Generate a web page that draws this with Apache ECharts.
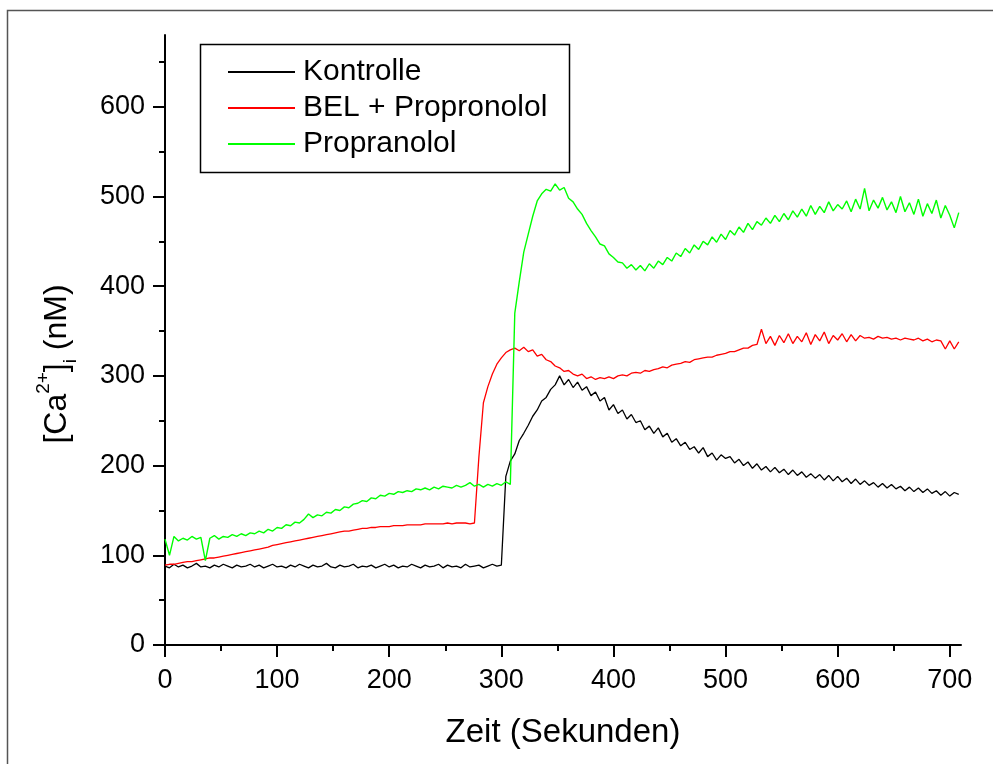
<!DOCTYPE html>
<html>
<head>
<meta charset="utf-8">
<script src="https://cdn.jsdelivr.net/npm/echarts@6/dist/echarts.min.js"></script>
<style>
html,body{margin:0;padding:0;background:#fff;}
#chart{width:993px;height:764px;}
</style>
</head>
<body>
<div id="chart"></div>
<script>
// Sample times (s)
const times = [
  0,4,8,12,16,20,24,28,32,36,
  40,44,48,52,56,60,64,68,72,76,
  80,84,88,92,96,100,104,108,112,116,
  120,124,128,132,136,140,144,148,152,156,
  160,164,168,172,176,180,184,188,192,196,
  200,204,208,212,216,220,224,228,232,236,
  240,244,248,252,256,260,264,268,272,276,
  280,284,288,292,296,300,304,308,312,316,
  320,324,328,332,336,340,344,348,352,356,
  360,364,368,372,376,380,384,388,392,396,
  400,404,408,412,416,420,424,428,432,436,
  440,444,448,452,456,460,464,468,472,476,
  480,484,488,492,496,500,504,508,512,516,
  520,524,528,532,536,540,544,548,552,556,
  560,564,568,572,576,580,584,588,592,596,
  600,604,608,612,616,620,624,628,632,636,
  640,644,648,652,656,660,664,668,672,676,
  680,684,688,692,696,700,704,708
];

const kontrolle = [
  88,86,90,87,89,86,88,91,87,88,
  86,89,87,90,88,86,89,87,88,90,
  87,89,86,88,90,87,88,86,89,87,
  90,88,86,89,87,88,91,87,86,89,
  87,88,90,86,88,87,89,86,88,90,
  87,89,86,88,87,90,88,86,89,87,
  88,90,86,89,87,88,86,90,87,88,
  89,86,88,90,88,89,188,205,213,228,
  236,245,255,262,272,276,285,290,300,290,
  296,287,293,284,288,278,282,272,276,262,
  268,258,262,252,257,248,250,240,244,236,
  242,232,236,226,230,222,226,218,221,214,
  220,210,214,206,212,208,210,203,207,200,
  204,197,202,195,199,193,198,192,196,190,
  195,189,193,187,191,186,190,184,189,183,
  188,182,186,180,185,179,183,178,181,176,
  180,175,179,174,177,172,176,171,175,170,
  174,169,172,167,171,166,170,168
];

const belPropronolol = [
  89,90,90,91,92,93,93,94,95,96,
  97,97,98,99,100,101,102,103,104,105,
  106,107,108,109,111,112,113,114,115,116,
  117,118,119,120,121,122,123,124,125,126,
  127,127,128,129,130,130,131,131,132,132,
  132,133,133,133,134,134,134,134,135,135,
  135,135,135,136,135,136,136,136,135,136,
  210,270,288,302,313,320,326,329,331,328,
  332,327,329,322,324,318,316,311,309,305,
  306,302,300,302,297,299,296,298,297,299,
  297,300,301,300,303,304,303,306,305,307,
  308,310,309,312,313,314,316,315,318,319,
  320,321,321,323,324,325,327,327,329,331,
  331,334,335,352,336,344,334,345,337,347,
  336,344,338,348,335,346,339,349,336,345,
  340,347,338,346,339,345,342,343,341,344,
  342,343,341,342,340,342,341,340,342,339,
  341,338,340,339,330,339,330,338
];

const propranolol = [
  118,100,121,116,119,117,121,118,120,94,
  119,122,118,121,120,123,121,124,122,125,
  124,127,125,129,127,131,130,134,133,137,
  136,140,146,142,145,144,148,147,151,150,
  154,153,157,158,161,160,164,163,167,166,
  169,168,171,170,172,171,174,173,175,173,
  176,174,177,176,175,178,176,178,181,177,
  179,176,179,177,180,178,182,179,370,405,
  438,458,478,495,503,508,506,514,507,510,
  498,494,486,480,470,462,455,447,445,436,
  432,427,426,420,424,418,423,417,425,420,
  428,424,432,428,437,433,442,437,446,441,
  450,446,455,449,458,452,462,457,466,460,
  470,463,472,468,476,470,479,472,481,474,
  484,477,486,478,490,480,489,482,494,484,
  491,486,495,483,497,486,509,484,496,487,
  499,485,494,482,500,483,493,480,497,478,
  492,481,496,476,490,479,465,482
];

const seriesNames = ['Kontrolle', 'BEL + Propronolol', 'Propranolol'];
const seriesColors = ['#000000', '#ff0000', '#00ff00'];

const xMajorTicks = [0,100,200,300,400,500,600,700];
const xMinorTicks = [50,150,250,350,450,550,650];
const yMajorTicks = [0,100,200,300,400,500,600];
const yMinorTicks = [50,150,250,350,450,550,650];

const FONT = 'Liberation Sans, Arial, sans-serif';

function pairs(vals){ return vals.map((v,i)=>[times[i], v]); }

const chart = echarts.init(document.getElementById('chart'), null, {renderer:'canvas'});

const axisLineStyle = {color:'#000', width:2};

chart.setOption({
  animation:false,
  backgroundColor:'#fff',
  grid:{left:165, right:32, top:35, bottom:119, containLabel:false},
  xAxis:[
    {type:'value', min:0, max:710, position:'bottom',
     axisLine:{show:true, onZero:false, lineStyle:axisLineStyle},
     axisTick:{show:true, inside:false, length:12, lineStyle:{color:'#000', width:2}, customValues:xMajorTicks},
     axisLabel:{show:true, customValues:xMajorTicks, margin:22, fontSize:27, color:'#000', fontFamily:FONT},
     splitLine:{show:false},
     name:'Zeit (Sekunden)', nameLocation:'middle', nameGap:71,
     nameTextStyle:{fontSize:33, color:'#000', fontFamily:FONT}},
    {type:'value', min:0, max:710, position:'bottom',
     axisLine:{show:false},
     axisTick:{show:true, inside:false, length:6, lineStyle:{color:'#000', width:2}, customValues:xMinorTicks},
     axisLabel:{show:false},
     splitLine:{show:false}}
  ],
  yAxis:[
    {type:'value', min:0, max:680, position:'left',
     axisLine:{show:true, onZero:false, lineStyle:axisLineStyle},
     axisTick:{show:true, inside:false, length:12, lineStyle:{color:'#000', width:2}, customValues:yMajorTicks},
     axisLabel:{show:true, customValues:yMajorTicks, margin:20, fontSize:27, color:'#000', fontFamily:FONT},
     splitLine:{show:false}},
    {type:'value', min:0, max:680, position:'left',
     axisLine:{show:false},
     axisTick:{show:true, inside:false, length:6, lineStyle:{color:'#000', width:2}, customValues:yMinorTicks},
     axisLabel:{show:false},
     splitLine:{show:false}}
  ],
  legend:{
    orient:'vertical', left:228, top:57, padding:0,
    itemWidth:67, itemHeight:2, itemGap:6, icon:'rect',
    textStyle:{fontSize:30, color:'#000', fontFamily:FONT, padding:[0,0,0,3]},
    data:seriesNames
  },
  graphic:[
    {type:'rect', shape:{x:7.5, y:10.5, width:1000, height:800}, style:{fill:'none', stroke:'#555', lineWidth:1.5}, silent:true, z:-1},
    {type:'rect', shape:{x:200.5, y:44.5, width:369, height:128}, style:{fill:'none', stroke:'#000', lineWidth:1.5}, silent:true},
    {type:'text', x:57, y:364, rotation:Math.PI/2,
     style:{
       text:'[Ca{sup|2+}]{sub|i} (nM)',
       font:'32px ' + FONT, fill:'#000',
       align:'center', verticalAlign:'middle', lineHeight:46,
       rich:{
         sup:{fontSize:19, fontFamily:FONT, verticalAlign:'top', lineHeight:46, fill:'#000'},
         sub:{fontSize:19, fontFamily:FONT, verticalAlign:'bottom', lineHeight:46, fill:'#000'}
       }
     }}
  ],
  series:[
    {name:seriesNames[0], type:'line', data:pairs(kontrolle), showSymbol:false, symbol:'none',
     lineStyle:{color:seriesColors[0], width:1.3}, itemStyle:{color:seriesColors[0]}},
    {name:seriesNames[1], type:'line', data:pairs(belPropronolol), showSymbol:false, symbol:'none',
     lineStyle:{color:seriesColors[1], width:1.3}, itemStyle:{color:seriesColors[1]}},
    {name:seriesNames[2], type:'line', data:pairs(propranolol), showSymbol:false, symbol:'none',
     lineStyle:{color:seriesColors[2], width:1.4}, itemStyle:{color:seriesColors[2]}}
  ]
});
</script>
</body>
</html>
